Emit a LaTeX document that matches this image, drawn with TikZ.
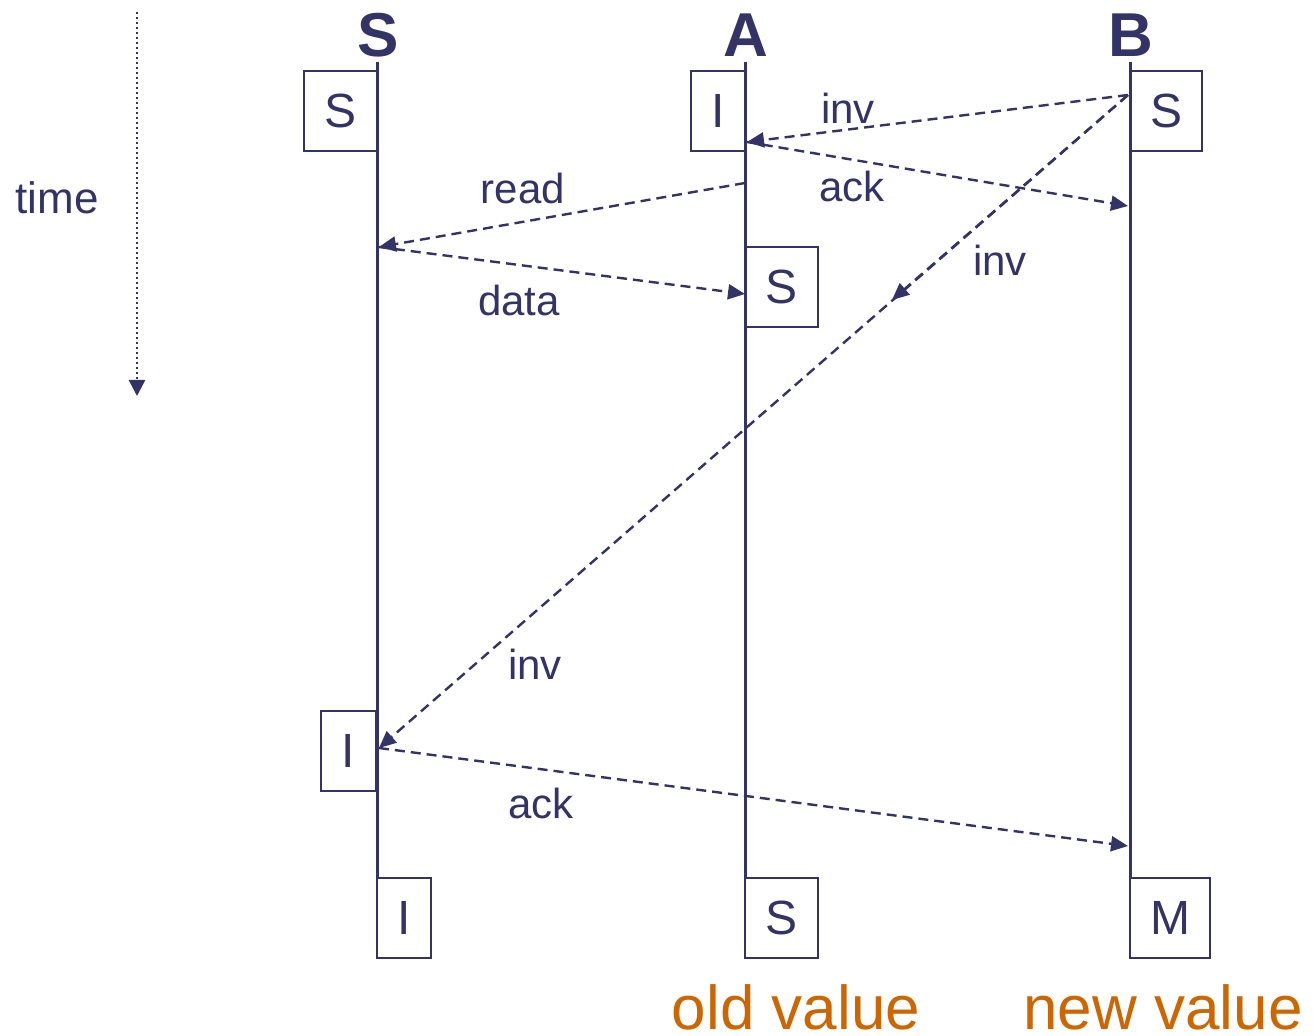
\documentclass[tikz,border=0pt]{standalone}
\usepackage{fontspec}
\setmainfont{Liberation Sans}
\usetikzlibrary{arrows.meta}
\definecolor{navy}{RGB}{51,51,102}
\definecolor{rust}{RGB}{204,102,0}
\tikzset{
  state/.style={draw=navy,line width=1.3pt,minimum height=40pt,inner sep=0pt,
    text=navy,font=\fontsize{24}{24}\selectfont},
  msg/.style={draw=navy,line width=1.2pt,dash pattern=on 5pt off 3pt,
    -{Triangle[length=8.5pt,width=7.5pt]}},
  lbl/.style={text=navy,font=\fontsize{21}{21}\selectfont},
  proc/.style={text=navy,font=\fontsize{31}{31}\selectfont\bfseries},
  value/.style={text=rust,font=\fontsize{31}{31}\selectfont,inner sep=0pt,anchor=base},
}
\begin{document}
\begin{tikzpicture}[x=0.5pt,y=-0.5pt]
\useasboundingbox (0,0) rectangle (1313,1036);
% lifelines of the three caches
\foreach \nm/\xx in {S/377,A/745,B/1130} {
  \node[proc] (hdr\nm) at (\xx+1,35) {\nm};
  \coordinate (top\nm) at (\xx,62);
  \coordinate (bot\nm) at (\xx,878);
  \draw[navy,line width=1.5pt] (top\nm) -- (bot\nm);
}
% cache line states
\node[state,minimum width=36.5pt] (sS0) at (340.5,111) {S};
\node[state,minimum width=27pt] (aI0) at (718,111) {I};
\node[state,minimum width=36pt] (bS0) at (1166,111) {S};
\node[state,minimum width=36.5pt] (aS1) at (781.5,287) {S};
\node[state,minimum width=27.5pt] (sI1) at (348.5,751) {I};
\node[state,minimum width=27pt] (sI2) at (404,918) {I};
\node[state,minimum width=36.5pt] (aS2) at (781.5,918) {S};
\node[state,minimum width=40pt] (bM2) at (1170,918) {M};
% message end points
\coordinate (bInv) at (1128,95);
\coordinate (aInv) at (747,142);
\coordinate (bAck) at (1128,206);
\coordinate (aRead) at (745,183);
\coordinate (sRead) at (379,247);
\coordinate (aData) at (745,294);
\coordinate (midInv) at (892,300);
\coordinate (sInv) at (379,748);
\coordinate (bAck2) at (1128,846);
% messages
\draw[msg] (bInv) -- (aInv);
\draw[msg] (aInv) -- (bAck);
\draw[msg] (aRead) -- (sRead);
\draw[msg] (sRead) -- (aData);
\draw[msg] (bInv) -- (midInv);
\draw[msg] (bInv) -- (sInv);
\draw[msg] (sInv) -- (bAck2);
\node[lbl] (lInv) at (848,108) {inv};
\node[lbl] (lAck) at (852,186) {ack};
\node[lbl] (lRead) at (523,188) {read};
\node[lbl] (lData) at (519,300) {data};
\node[lbl] (lInv2) at (1000,260) {inv};
\node[lbl] (lInv3) at (535,664) {inv};
\node[lbl] (lAck2) at (541,803) {ack};
% time axis
\coordinate (tTop) at (137,12);
\coordinate (tBot) at (137,396);
\draw[navy,line width=1.3pt,dash pattern=on 1pt off 1.5pt,
  -{Triangle[length=8pt,width=8pt]}] (tTop) -- (tBot);
\node[lbl,font=\fontsize{22}{22}\selectfont] (lTime) at (57,198) {time};
% values held
\node[value] (oldV) at (796,1030) {old value};
\node[value] (newV) at (1163,1030) {new value};
\end{tikzpicture}
\end{document}
